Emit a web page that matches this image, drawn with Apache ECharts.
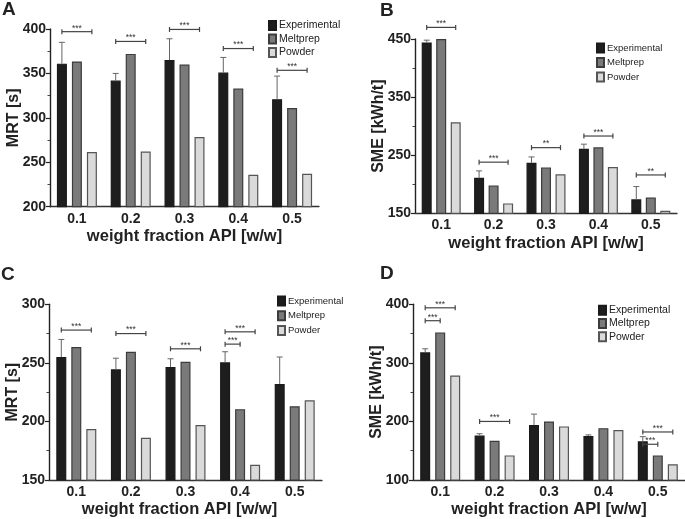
<!DOCTYPE html>
<html><head><meta charset="utf-8">
<script src="https://cdn.jsdelivr.net/npm/echarts@6/dist/echarts.min.js"></script>
<style>html,body{margin:0;padding:0;background:#fff}#c{width:685px;height:519px}</style>
</head><body><div id="c"></div>
<script>
const categories = ['0.1', '0.2', '0.3', '0.4', '0.5'];
const seriesNames = ['Experimental', 'Meltprep', 'Powder'];
const xTitle = 'weight fraction API [w/w]';

// Panel A: MRT [s]
const aExperimental = [361, 342, 365, 351, 321];
const aExperimentalSD = [24, 8, 24, 17, 26];
const aMeltprep = [363.5, 372, 360, 333, 311];
const aPowder = [261.5, 262, 278.5, 236, 237];
const aBrackets = [[0, 397, 0, 2], [1, 386, 0, 2], [2, 399.5, 0, 2], [3, 378, 0, 2], [4, 353.5, 0, 2]];
const aBracketLabels = ['***', '***', '***', '***', '***'];
const aAxis = { name: 'MRT [s]', min: 200, max: 400, interval: 50 };

// Panel B: SME [kWh/t]
const bExperimental = [444, 211, 237, 261, 174];
const bExperimentalSD = [4, 12, 10, 8, 22];
const bMeltprep = [450, 198, 229, 263.5, 177];
const bPowder = [306.5, 167, 217, 229.5, 154.5];
const bBrackets = [[0, 470, 0, 2], [1, 238, 0, 2], [2, 263, 0, 2], [3, 283, 0, 2], [4, 216, 0, 2]];
const bBracketLabels = ['***', '***', '**', '***', '**'];
const bAxis = { name: 'SME [kWh/t]', min: 150, max: 450, interval: 100 };

// Panel C: MRT [s]
const cExperimental = [255, 244.5, 246.5, 250.5, 232];
const cExperimentalSD = [15, 9.5, 7, 9, 23];
const cMeltprep = [263.5, 259.5, 251, 210.5, 213];
const cPowder = [193.5, 186, 197, 163, 218];
const cBrackets = [[0, 278, 0, 2], [1, 275, 0, 2], [2, 262, 0, 2], [3, 276.5, 0, 2], [3, 266, 0, 1]];
const cBracketLabels = ['***', '***', '***', '***', '***'];
const cAxis = { name: 'MRT [s]', min: 150, max: 300, interval: 50 };

// Panel D: SME [kWh/t]
const dExperimental = [318, 176, 194, 175, 166];
const dExperimentalSD = [6, 3, 18.5, 2, 8];
const dMeltprep = [352, 167, 200, 188.5, 142];
const dPowder = [278.5, 142, 191.5, 185.5, 127];
const dBrackets = [[0, 394, 0, 2], [0, 372, 0, 1], [1, 200, 0, 2], [4, 182, 0, 2], [4, 161, 0, 1]];
const dBracketLabels = ['***', '***', '***', '***', '***'];
const dAxis = { name: 'SME [kWh/t]', min: 100, max: 400, interval: 100 };

// ---- styling / layout ----
const FONT = '"Liberation Sans", Arial, sans-serif';
const INK = '#222';
const colors = ['#1e1e1e', '#7a7a7a', '#dadada'];
const borders = ['#1a1a1a', '#3c3c3c', '#555555'];

const panels = [
  { exp: aExperimental, sd: aExperimentalSD, melt: aMeltprep, pow: aPowder, br: aBrackets, brl: aBracketLabels, ax: aAxis,
    grid: { left: 50, top: 29, width: 269, height: 177.7 }, step: 15, barW: 10,
    legend: { left: 268, top: 20, fs: 10.5, gap: 2.5 }, yGap: 28, xGap: 21, xPad: [0, 0, 0, 0] },
  { exp: bExperimental, sd: bExperimentalSD, melt: bMeltprep, pow: bPowder, br: bBrackets, brl: bBracketLabels, ax: bAxis,
    grid: { left: 415, top: 39, width: 262, height: 174.3 }, step: 14.5, barW: 10,
    legend: { left: 596, top: 42.5, fs: 9.5, gap: 3.5 }, yGap: 28, xGap: 22, xPad: [0, 0, 0, 0] },
  { exp: cExperimental, sd: cExperimentalSD, melt: cMeltprep, pow: cPowder, br: cBrackets, brl: cBracketLabels, ax: cAxis,
    grid: { left: 49, top: 304.3, width: 273, height: 177.7 }, step: 15, barW: 10,
    legend: { left: 277, top: 295.5, fs: 9.5, gap: 3.8 }, yGap: 28, xGap: 21, xPad: [0, 12, 0, 0] },
  { exp: dExperimental, sd: dExperimentalSD, melt: dMeltprep, pow: dPowder, br: dBrackets, brl: dBracketLabels, ax: dAxis,
    grid: { left: 413, top: 304.3, width: 272, height: 177.7 }, step: 15, barW: 10,
    legend: { left: 598, top: 304.8, fs: 10.5, gap: 2.2 }, yGap: 28, xGap: 21, xPad: [0, 0, 0, 0] }
];

const grids = [], xAxes = [], yAxes = [], series = [], legends = [];
panels.forEach((p, i) => {
  grids.push(Object.assign({ containLabel: false }, p.grid));
  xAxes.push({
    type: 'category', gridIndex: i, data: categories,
    axisLine: { lineStyle: { color: '#333', width: 1.3 } },
    axisTick: { alignWithLabel: true, length: 3, lineStyle: { color: '#333', width: 1.2 } },
    axisLabel: { fontFamily: FONT, fontWeight: 'bold', fontSize: 14, color: INK, margin: 5 },
    name: xTitle, nameLocation: 'middle', nameGap: p.xGap, nameMoveOverlap: false,
    nameTextStyle: { fontFamily: FONT, fontWeight: 'bold', fontSize: 16.5, color: INK, padding: p.xPad }
  });
  yAxes.push({
    type: 'value', gridIndex: i, min: p.ax.min, max: p.ax.max, interval: p.ax.interval,
    splitLine: { show: false },
    axisLine: { show: true, lineStyle: { color: '#222', width: 1.4 } },
    axisTick: { show: true, length: 4, lineStyle: { color: '#222', width: 1.2 } },
    minorTick: { show: true, splitNumber: 2, length: 2.5, lineStyle: { color: '#444', width: 1 } },
    axisLabel: { fontFamily: FONT, fontWeight: 'bold', fontSize: 14, color: INK, margin: 4 },
    name: p.ax.name, nameLocation: 'middle', nameGap: p.yGap, nameMoveOverlap: false,
    nameTextStyle: { fontFamily: FONT, fontWeight: 'bold', fontSize: 16, color: INK }
  });
  [p.exp, p.melt, p.pow].forEach((d, k) => {
    series.push({
      type: 'bar', name: seriesNames[k], xAxisIndex: i, yAxisIndex: i, data: d,
      barWidth: p.barW, barGap: ((p.step - p.barW) / p.barW * 100) + '%',
      itemStyle: { color: colors[k], borderColor: borders[k], borderWidth: 1.2 }
    });
  });
  const step = p.step;
  series.push({
    type: 'custom', xAxisIndex: i, yAxisIndex: i, z: 3,
    data: p.exp.map((v, k) => [k, v, v + p.sd[k]]),
    renderItem: (params, api) => {
      const b = api.coord([api.value(0), api.value(1)]);
      const t = api.coord([api.value(0), api.value(2)]);
      const x = b[0] - step;
      const st = { stroke: '#666', lineWidth: 1 };
      return { type: 'group', children: [
        { type: 'line', shape: { x1: x, y1: b[1], x2: x, y2: t[1] }, style: st },
        { type: 'line', shape: { x1: x - 3, y1: t[1], x2: x + 3, y2: t[1] }, style: st }
      ] };
    }
  });
  const labels = p.brl;
  series.push({
    type: 'custom', xAxisIndex: i, yAxisIndex: i, z: 4, clip: false,
    data: p.br,
    renderItem: (params, api) => {
      const c = api.coord([api.value(0), api.value(1)]);
      const x1 = c[0] + (api.value(2) - 1) * step;
      const x2 = c[0] + (api.value(3) - 1) * step;
      const y = c[1];
      const st = { stroke: '#444', lineWidth: 1.2 };
      return { type: 'group', children: [
        { type: 'line', shape: { x1: x1, y1: y, x2: x2, y2: y }, style: st },
        { type: 'line', shape: { x1: x1, y1: y - 2.5, x2: x1, y2: y + 2.5 }, style: st },
        { type: 'line', shape: { x1: x2, y1: y - 2.5, x2: x2, y2: y + 2.5 }, style: st },
        { type: 'text', style: { text: labels[params.dataIndex], x: (x1 + x2) / 2, y: y + 1,
          align: 'center', verticalAlign: 'bottom', font: '8.5px ' + FONT, fill: '#333' } }
      ] };
    }
  });
  legends.push({
    data: seriesNames, orient: 'vertical', left: p.legend.left, top: p.legend.top,
    padding: 0, itemWidth: 7, itemHeight: 9, itemGap: p.legend.gap, icon: 'rect',
    selectedMode: false,
    textStyle: { fontFamily: FONT, fontSize: p.legend.fs, color: INK, lineHeight: 9, padding: [0, 0, 0, -2] }
  });
});

const chart = echarts.init(document.getElementById('c'), null, { renderer: 'canvas' });
chart.setOption({
  animation: false,
  backgroundColor: '#fff',
  grid: grids, xAxis: xAxes, yAxis: yAxes, series: series, legend: legends,
  graphic: [
    { type: 'text', left: 2, top: 0, style: { text: 'A', font: 'bold 19px ' + FONT, fill: INK } },
    { type: 'text', left: 380, top: 1, style: { text: 'B', font: 'bold 19px ' + FONT, fill: INK } },
    { type: 'text', left: 1, top: 265, style: { text: 'C', font: 'bold 19px ' + FONT, fill: INK } },
    { type: 'text', left: 380, top: 264, style: { text: 'D', font: 'bold 19px ' + FONT, fill: INK } }
  ]
});
</script></body></html>
